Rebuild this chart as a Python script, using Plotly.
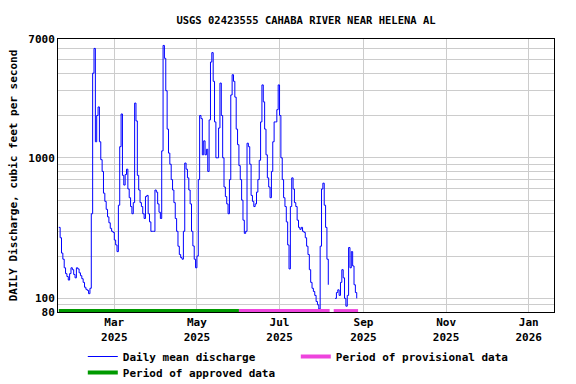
import math
import pandas as pd
import plotly.graph_objects as go

# ---------------- data ----------------
title_text = "USGS 02423555 CAHABA RIVER NEAR HELENA AL"
y_title = "DAILY Discharge, cubic feet per second"

start_date = "2025-01-19"
# daily mean discharge (cfs), None = missing day
discharge = [
    320, 270, 210, 190, 165, 150, 143, 135, 150, 165,
    160, 148, 140, 165, 162, 152, 145, 138, 130, 120,
    116, 114, 108, 118, 400, 4000, 6000, 1300, 2000, 2300,
    1300, 970, 800, 560, 490, 430, 380, 345, 315, 300,
    295, 260, 240, 215, 460, 1200, 2050, 750, 640, 760,
    830, 600, 520, 450, 400, 480, 2450, 1830, 750, 590,
    480, 450, 400, 370, 530, 540, 400, 350, 300, 300,
    300, 590, 570, 470, 410, 370, 1120, 6300, 5100, 3000,
    1600, 1080, 900, 700, 590, 480, 370, 300, 235, 205,
    195, 190, 300, 918, 830, 720, 590, 470, 300, 236,
    190, 165, 200, 700, 2000, 1900, 1050, 1320, 1050, 1150,
    800, 1860, 4800, 5600, 3500, 1800, 1000, 1000, 1630, 3400,
    2000, 1000, 620, 530, 470, 400, 700, 2800, 3900, 3500,
    2700, 1600, 1240, 880, 700, 500, 360, 290, 300, 1270,
    1200, 900, 540, 490, 450, 470, 570, 700, 960, 1800,
    3300, 2500, 1600, 1050, 720, 620, 520, 800, 1300, 1800,
    1800, 2200, 3300, 2000, 1000, 700, 520, 450, 350, 240,
    162, 450, 720, 600, 480, 450, 360, 320, 310, 320,
    300, 295, 270, 235, 205, 160, 130, 118, 112, 105,
    95, 90, 84, 235, 600, 660, 460, 320, 190, 125,
    None, None, None, None, 100, 110, 115, 105, 130, 160,
    140, 100, 88, 105, 230, 165, 215, 170, 125, 110,
    100,
]
dates = pd.date_range(start_date, periods=len(discharge), freq="D")

approved_period = ["2025-01-19", "2025-06-01"]
provisional_periods = [["2025-06-01", "2025-08-07"], ["2025-08-10", "2025-08-28"]]
period_bar_level = 81.2

y_tick_vals = [80, 100, 1000, 7000]
y_tick_text = ["80", "100", "1000", "7000"]
y_minor_vals = [90, 200, 300, 400, 500, 600, 700, 800, 900,
                2000, 3000, 4000, 5000, 6000]
x_tick_vals = ["2025-03-01", "2025-05-01", "2025-07-01", "2025-09-01",
               "2025-11-01", "2026-01-01"]
x_tick_text = ["Mar<br>2025", "May<br>2025", "Jul<br>2025", "Sep<br>2025",
               "Nov<br>2025", "Jan<br>2026"]
x_range = ["2025-01-18 10:00", "2026-01-19 16:00"]
y_range = [80, 7000]

# ---------------- figure ----------------
FONT = "DejaVu Sans Mono"
BLUE = "#0000ff"
GREEN = "#009a00"
PINK = "#ee44dd"
FS = 11
PLOT_H = 273

fig = go.Figure()

fig.add_trace(go.Scatter(
    x=dates, y=discharge, mode="lines", name="Daily mean discharge",
    line=dict(color=BLUE, width=1, shape="hv"), connectgaps=False,
    legend="legend", legendrank=1,
))

px_x, px_y = [], []
for s, e in provisional_periods:
    px_x += [s, e, None]
    px_y += [period_bar_level, period_bar_level, None]
fig.add_trace(go.Scatter(
    x=px_x, y=px_y, mode="lines", name="Period of provisional data",
    line=dict(color=PINK, width=4), connectgaps=False,
    legend="legend", legendrank=2,
))
fig.add_trace(go.Scatter(
    x=approved_period, y=[period_bar_level] * 2, mode="lines",
    name="Period of approved data",
    line=dict(color=GREEN, width=4), legend="legend2",
))

legend_common = dict(orientation="h", x=0.05, xanchor="left", yanchor="top",
                     entrywidth=168, entrywidthmode="pixels",
                     font=dict(family=FONT, size=FS, weight="bold"),
                     bgcolor="rgba(0,0,0,0)", itemwidth=30)

fig.update_layout(
    width=576, height=384,
    margin=dict(l=58, r=22, t=39, b=72, autoexpand=False),
    paper_bgcolor="white", plot_bgcolor="white",
    font=dict(family=FONT, size=FS, color="black", weight="bold"),
    title=dict(text=title_text, x=0.5, xref="paper", xanchor="center",
               y=1 - 20 / 384, yref="container", yanchor="middle",
               font=dict(family=FONT, size=10.5, color="black", weight="bold")),
    showlegend=True,
    legend=dict(y=-(342 - 312) / PLOT_H, **legend_common),
    legend2=dict(y=-(358 - 312) / PLOT_H, **legend_common),
)
fig.update_xaxes(
    type="date", range=x_range, tickmode="array", tickvals=x_tick_vals,
    ticktext=x_tick_text, showgrid=True, gridcolor="#cccccc", gridwidth=1,
    showline=True, linecolor="black", linewidth=1, mirror=True,
    ticks="", zeroline=False, automargin=False,
    tickfont=dict(family=FONT, size=FS, weight="bold"),
)
fig.update_yaxes(
    type="log", range=[math.log10(y_range[0]), math.log10(y_range[1])],
    tickmode="array", tickvals=y_tick_vals, ticktext=y_tick_text,
    showgrid=True, gridcolor="#cccccc", gridwidth=1,
    minor=dict(tickmode="array", tickvals=y_minor_vals, showgrid=True,
               gridcolor="#cccccc", gridwidth=1, ticks=""),
    showline=True, linecolor="black", linewidth=1, mirror=True,
    ticks="", zeroline=False, automargin=False,
    title=dict(text=y_title, standoff=8,
               font=dict(family=FONT, size=FS, weight="bold")),
    tickfont=dict(family=FONT, size=FS, weight="bold"),
)

fig.write_html("out.html",
               config={"displayModeBar": False},
               post_script="document.body.style.margin='0';"
                           "document.body.style.overflow='hidden';")
